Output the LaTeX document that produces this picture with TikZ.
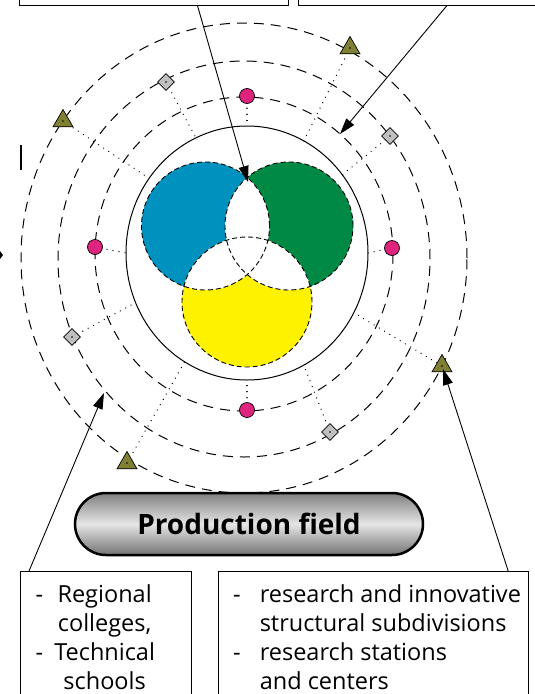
\documentclass[tikz,border=0pt]{standalone}
\usepackage{fontspec}
\setmainfont{Open Sans}
\usetikzlibrary{arrows.meta,calc,shapes.geometric,shapes.misc}

\definecolor{vennblue}{RGB}{0,146,190}
\definecolor{venngreen}{RGB}{0,137,69}
\definecolor{vennyellow}{RGB}{255,242,0}
\definecolor{dotpink}{RGB}{222,36,126}
\definecolor{triolive}{RGB}{128,128,52}

\tikzset{
  ring/.style={line width=1pt, dash pattern=on 10pt off 7pt},
  vennline/.style={line width=0.9pt, dash pattern=on 5pt off 3pt},
  ray/.style={line width=1.3pt, dash pattern=on 0.1pt off 6pt, line cap=round},
  pointer/.style={-{Triangle[length=16pt,width=10pt]}, line width=0.9pt},
  box/.style={draw, line width=1.2pt, rectangle, inner sep=0pt},
  pinkdot/.style={circle, draw, fill=dotpink, line width=0.7pt, minimum size=15pt, inner sep=0pt},
  graydia/.style={diamond, draw, fill=black!25, line width=0.7pt, minimum size=17pt, inner sep=0pt},
  olivetri/.style={regular polygon, regular polygon sides=3, draw, fill=triolive, line width=0.7pt, minimum size=23pt, inner sep=0pt},
  pill/.style={rounded rectangle, draw, line width=2.5pt, minimum width=348pt, minimum height=62pt,
    top color=black!50, bottom color=black!55, middle color=black!10, inner sep=0pt,
    font=\fontsize{28}{32}\selectfont\bfseries},
  boxtext/.style={font=\fontsize{23.5}{29}\selectfont, inner sep=0pt}
}

\begin{document}
\begin{tikzpicture}[x=1pt,y=-1pt]
\useasboundingbox (0,0) rectangle (535,694);

% centres
\coordinate (sc) at (247,253);
\coordinate (cb) at (205.5,226);
\coordinate (cg) at (289,226);
\coordinate (cy) at (247,302);

% three circles
\fill[vennblue] (cb) circle (64pt);
\fill[venngreen] (cg) circle (64pt);
\fill[vennyellow] (cy) circle (65pt);
\begin{scope}
  \clip (cb) circle (64pt);
  \fill[white] (cg) circle (64pt);
  \fill[white] (cy) circle (65pt);
\end{scope}
\begin{scope}
  \clip (cg) circle (64pt);
  \fill[white] (cy) circle (65pt);
\end{scope}
\draw[vennline] (cb) circle (64pt) (cg) circle (64pt) (cy) circle (65pt);

% rings
\draw[line width=1pt] (sc) ellipse [x radius=121pt, y radius=127pt];
\draw[ring] (244,254) ellipse [x radius=149pt, y radius=157pt];
\draw[ring] (244,259) ellipse [x radius=186pt, y radius=198pt];
\draw[ring] (244,258) ellipse [x radius=223pt, y radius=235pt];

% markers with dotted rays
\foreach \n/\x/\y/\a/\s in {p1/247/96/90/pinkdot, p2/392/248/0/pinkdot,
    p3/247/410/270/pinkdot, p4/95/247/180/pinkdot,
    d1/166/82/115/graydia, d2/390/136/38/graydia,
    d3/72/337/203/graydia, d4/330/432/-62/graydia,
    t1/350/48/62/olivetri, t2/63/121/144/olivetri,
    t3/127/463/239/olivetri, t4/442/366/-28/olivetri} {
  \coordinate (r\n) at ($(sc)+(\a:121pt and 127pt)$);
  \draw[ray] (\x,\y) -- (r\n);
  \node[\s] (\n) at (\x,\y) {};
}
\foreach \n in {d1,d2,d3,d4,t1,t2,t3,t4}
  \fill (\n) circle (0.8pt);

% cut-off pieces at the left edge
\draw[line width=1.2pt] (21,145) -- (21,170);
\fill (0,251) -- (3,255) -- (0,259) -- cycle;

% boxes
\node[box, anchor=south west, minimum width=269pt, minimum height=80pt] (topL) at (19,6) {};
\node[box, anchor=south west, minimum width=260pt, minimum height=80pt] (topR) at (298,6) {};
\node[box, anchor=north west, minimum width=171.5pt, minimum height=150pt] (botL) at (19.5,571) {};
\node[box, anchor=north west, minimum width=310pt, minimum height=150pt] (botR) at (218,571) {};

\node[boxtext, anchor=north west] (txtL) at ([xshift=16pt,yshift=-11pt]botL.north west)
  {\begin{tabular}{@{}c@{\hspace{11pt}}c@{}}
   - & Regional\\ & colleges,\\ - & Technical\\ & schools
   \end{tabular}};
\node[boxtext, anchor=north west] (txtR) at ([xshift=15pt,yshift=-11pt]botR.north west)
  {\begin{tabular}{@{}l@{\hspace{19pt}}l@{}}
   - & research and innovative\\ & structural subdivisions\\ - & research stations\\ & and centers
   \end{tabular}};

% production field
\node[pill] (prod) at (249,524) {Production field};

% pointers
\coordinate (venntop) at (248,182);
\coordinate (ringtip) at (340,134);
\coordinate (ringleft) at (104,393);
\coordinate (tritip) at (443,369);
\draw[pointer] ([xshift=43.5pt]topL.south) -- (venntop);
\draw[pointer] ([xshift=18pt]topR.south) -- (ringtip);
\draw[pointer] ([xshift=9.5pt]botL.north west) -- (ringleft);
\draw[pointer] ([xshift=-21pt]botR.north east) -- (tritip);
\end{tikzpicture}
\end{document}
